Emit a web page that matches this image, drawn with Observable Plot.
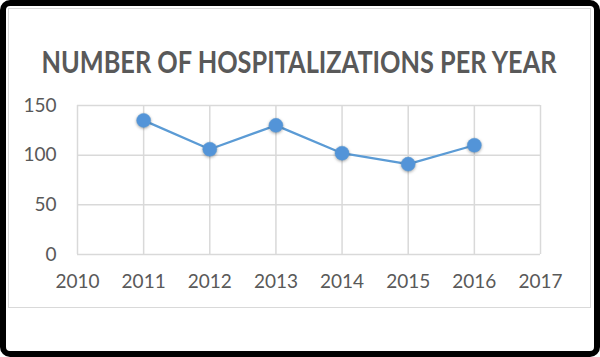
<!DOCTYPE html>
<html>
<head>
<meta charset="utf-8">
<script src="https://cdn.jsdelivr.net/npm/d3@7"></script>
<script src="https://cdn.jsdelivr.net/npm/@observablehq/plot@0.6"></script>
<style>
  html, body { margin: 0; padding: 0; background: #fff; }
  #wrap { position: relative; width: 600px; height: 357px; overflow: hidden; background: #fff; }
  #outer { position: absolute; left: 0; top: 0; width: 600px; height: 357px; box-sizing: border-box; border: 6px solid #000; border-radius: 10px; }
  #area { position: absolute; left: 8px; top: 8px; width: 583px; height: 300px; box-sizing: border-box; border: 1.5px solid #d9d9d9; }
  #titleText { position: absolute; left: 298.5px; top: 43px; white-space: nowrap; font-family: Lato, "Open Sans", sans-serif; font-weight: 700; font-size: 31px; line-height: 36px; color: #595959; transform-origin: 50% 50%; }
  #chart { position: absolute; left: 0; top: 88px; }
  .pts circle { filter: drop-shadow(0px 1.5px 1.5px rgba(0,0,0,0.35)); }
</style>
</head>
<body>
<div id="wrap">
  <div id="outer"></div>
  <div id="area"></div>
  <div id="titleText">NUMBER OF HOSPITALIZATIONS PER YEAR</div>
  <div id="chart"></div>
</div>
<script>
const years = [2011, 2012, 2013, 2014, 2015, 2016];
const hospitalizations = [135, 106, 130, 102, 91, 110];
const xTicks = [2010, 2011, 2012, 2013, 2014, 2015, 2016, 2017];
const yTicks = [0, 50, 100, 150];

const data = years.map((y, i) => ({year: y, value: hospitalizations[i]}));

const plot = Plot.plot({
  width: 600,
  height: 220,
  marginLeft: 77,
  marginRight: 60,
  marginTop: 17,
  marginBottom: 54,
  style: {fontFamily: "Lato, 'Open Sans', sans-serif", fontSize: "19px", color: "#595959", background: "transparent"},
  x: {domain: [2010, 2017], label: null},
  y: {domain: [0, 150], label: null},
  marks: [
    Plot.gridX(xTicks, {stroke: "#d9d9d9", strokeOpacity: 1, strokeWidth: 1.5}),
    Plot.gridY(yTicks, {stroke: "#d9d9d9", strokeOpacity: 1, strokeWidth: 1.5}),
    Plot.axisX({ticks: xTicks, tickFormat: d => String(d), tickSize: 0, tickPadding: 20, fill: "#595959", label: null}),
    Plot.axisY({ticks: yTicks, tickSize: 0, tickPadding: 21, fill: "#595959", label: null}),
    Plot.line(data, {x: "year", y: "value", stroke: "#5b9bd5", strokeWidth: 2.25}),
    Plot.dot(data, {x: "year", y: "value", r: 7, fill: "#5394d8", stroke: "#5b9bd5", strokeWidth: 0.5, className: "pts"})
  ]
});
document.getElementById("chart").appendChild(plot);

// fit the title to the reference's width, centred on the chart
const t = document.getElementById("titleText");
const w = t.getBoundingClientRect().width;
if (w > 0) t.style.transform = `translateX(-50%) scaleX(${515 / w})`;
</script>
</body>
</html>
